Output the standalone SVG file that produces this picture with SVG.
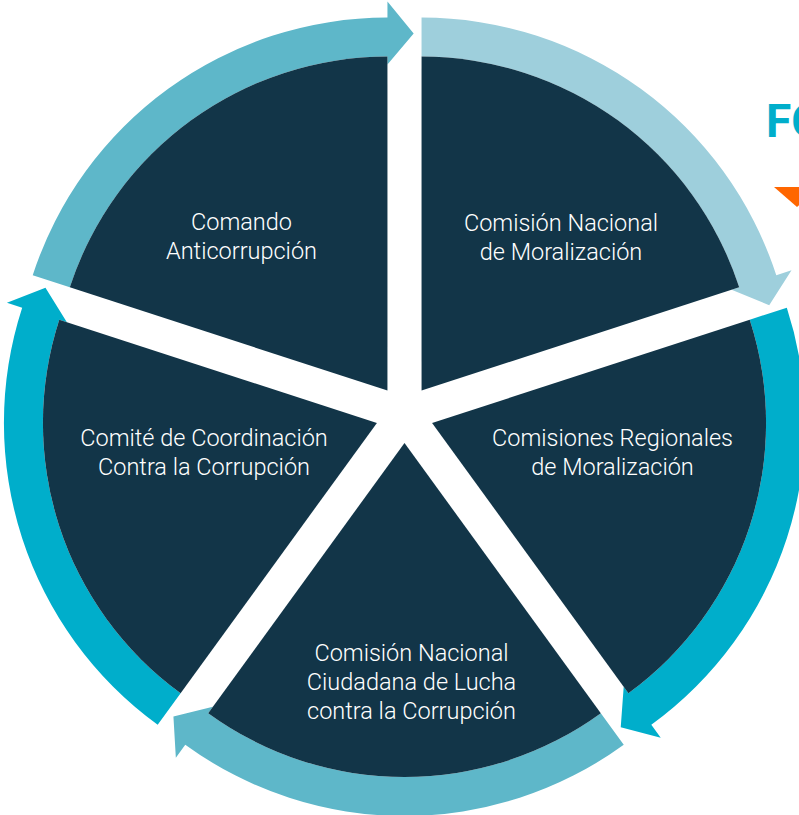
<svg xmlns="http://www.w3.org/2000/svg" width="799" height="815" viewBox="0 0 799 815">
<style>
.sector{fill:#123548}
.lbl{font-family:Roboto,"Liberation Sans",sans-serif;font-weight:300;font-size:23.5px;fill:#ffffff;text-anchor:middle}
.a-light{fill:#9ecfdc}
.a-mid{fill:#5eb7c9}
.a-bright{fill:#00aecb}
</style>
<defs>
<path id="wedge" d="M0,0 L-196.32,-270.21 A334 334 0 0 1 196.32,-270.21 Z"/>
<path id="arrow" d="M-196.32,-270.21 L-219.25,-301.76 A373 373 0 0 1 219.25,-301.76 L228.65,-314.71 L231.07,-273.44 L191.62,-263.74 L196.32,-270.21 A334 334 0 0 0 -196.32,-270.21 Z"/>
</defs>
<rect width="799" height="815" fill="#ffffff"/>
<g id="connectors">
<use href="#arrow" class="a-light" transform="translate(404.5,414) rotate(36) translate(0,-29)"/>
<use href="#arrow" class="a-bright" transform="translate(404.5,414) rotate(108) translate(0,-29)"/>
<use href="#arrow" class="a-mid" transform="translate(404.5,414) rotate(180) translate(0,-29)"/>
<use href="#arrow" class="a-bright" transform="translate(404.5,414) rotate(252) translate(0,-29)"/>
<use href="#arrow" class="a-mid" transform="translate(404.5,414) rotate(324) translate(0,-29)"/>
</g>
<g id="node-comision-nacional-moralizacion">
<use href="#wedge" class="sector" transform="translate(404.5,414) rotate(36) translate(0,-29)"/>
<text class="lbl"><tspan x="561" y="230.5">Comisión Nacional</tspan><tspan x="561" y="259.5">de Moralización</tspan></text>
</g>
<g id="node-comisiones-regionales">
<use href="#wedge" class="sector" transform="translate(404.5,414) rotate(108) translate(0,-29)"/>
<text class="lbl"><tspan x="612.5" y="446">Comisiones Regionales</tspan><tspan x="612.5" y="474.5">de Moralización</tspan></text>
</g>
<g id="node-comision-ciudadana">
<use href="#wedge" class="sector" transform="translate(404.5,414) rotate(180) translate(0,-29)"/>
<text class="lbl"><tspan x="411.5" y="661">Comisión Nacional</tspan><tspan x="411.5" y="690">Ciudadana de Lucha</tspan><tspan x="411.5" y="719">contra la Corrupción</tspan></text>
</g>
<g id="node-comite-coordinacion">
<use href="#wedge" class="sector" transform="translate(404.5,414) rotate(252) translate(0,-29)"/>
<text class="lbl"><tspan x="204" y="446">Comité de Coordinación</tspan><tspan x="204" y="475">Contra la Corrupción</tspan></text>
</g>
<g id="node-comando-anticorrupcion">
<use href="#wedge" class="sector" transform="translate(404.5,414) rotate(324) translate(0,-29)"/>
<text class="lbl"><tspan x="241.5" y="230">Comando</tspan><tspan x="241.5" y="259">Anticorrupción</tspan></text>
</g>
<text x="766" y="137" font-family="Roboto,'Liberation Sans',sans-serif" font-weight="700" font-size="46" fill="#00aecb">FO</text>
<polygon points="774,187 820,187 797,207" fill="#ff6600"/>
</svg>
